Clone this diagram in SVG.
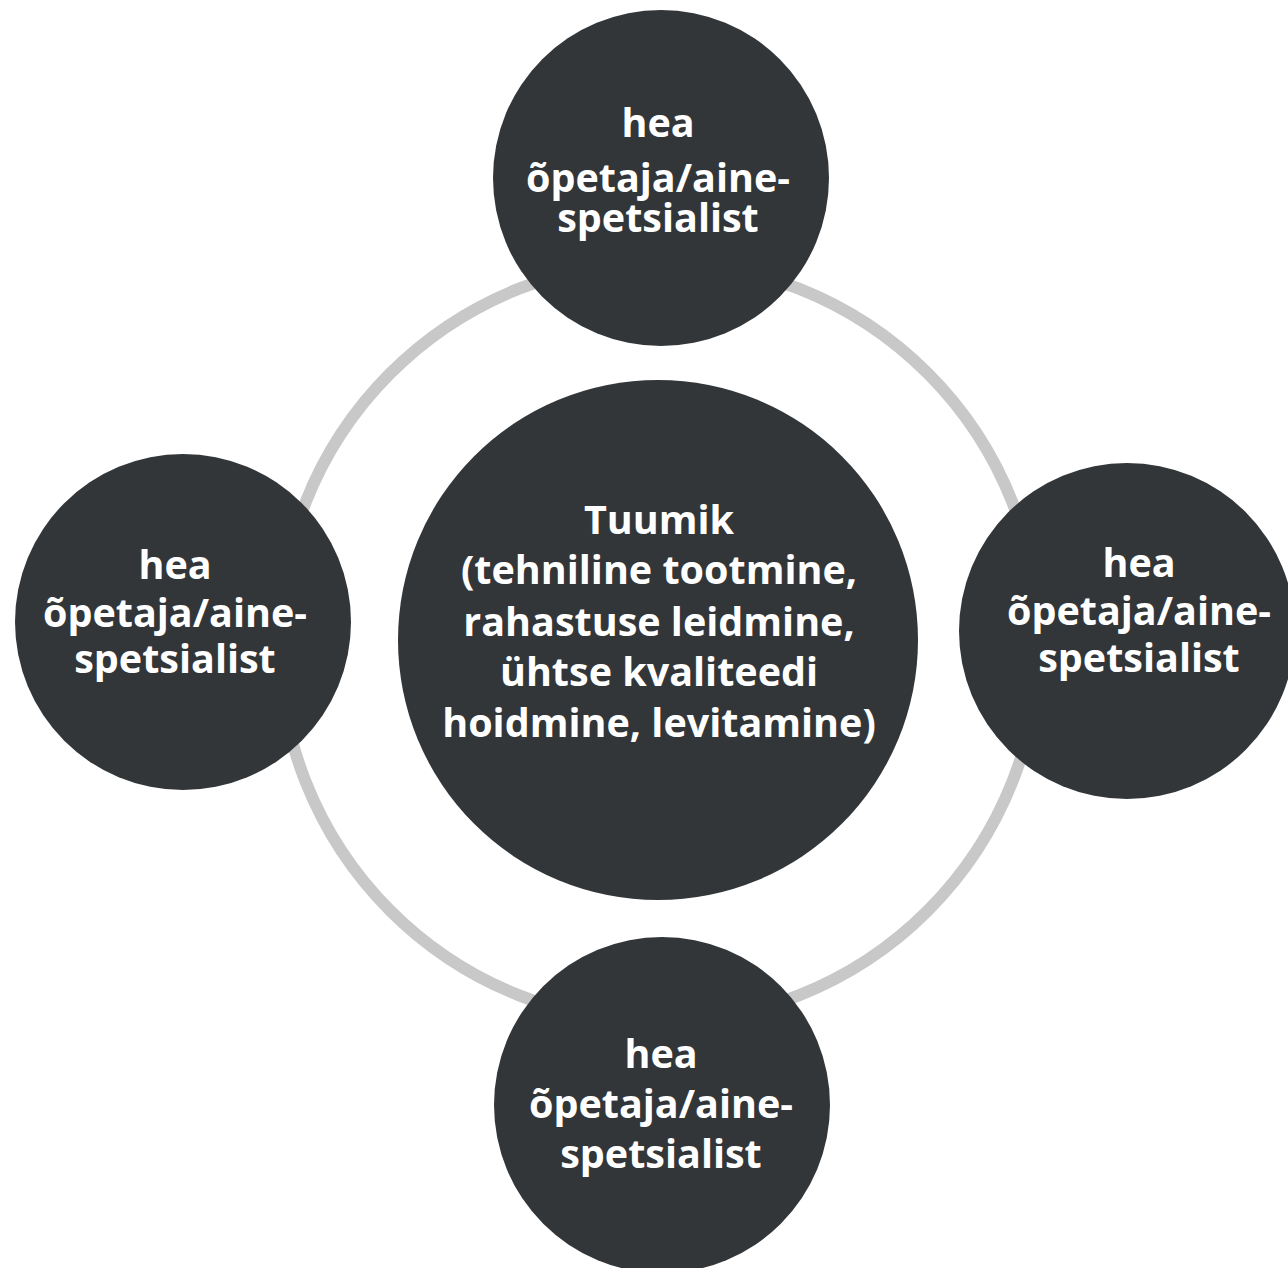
<svg xmlns="http://www.w3.org/2000/svg" width="1288" height="1268" viewBox="0 0 1288 1268">
<style>
.node{fill:#323639}
.lbl{font-family:"Open Sans","Noto Sans","Liberation Sans",sans-serif;font-weight:700;font-size:39.5px;fill:#ffffff;text-anchor:middle}
.ring{fill:none;stroke:#c8c8c8;stroke-width:12}
</style>
<rect width="1288" height="1268" fill="#ffffff"/>
<g id="connectors">
<circle class="ring" cx="659" cy="642" r="380"/>
</g>
<g id="center">
<circle class="node" cx="658" cy="640" r="260"/>
<text class="lbl"><tspan x="659" y="534">Tuumik</tspan><tspan x="659" y="584">(tehniline tootmine,</tspan><tspan x="659" y="636">rahastuse leidmine,</tspan><tspan x="659" y="686">ühtse kvaliteedi</tspan><tspan x="659" y="737">hoidmine, levitamine)</tspan></text>
</g>
<g id="top">
<circle class="node" cx="661" cy="178" r="168"/>
<text class="lbl"><tspan x="658" y="137">hea</tspan><tspan x="658" y="192">õpetaja/aine-</tspan><tspan x="658" y="232">spetsialist</tspan></text>
</g>
<g id="left">
<circle class="node" cx="183" cy="622" r="168"/>
<text class="lbl"><tspan x="175" y="579">hea</tspan><tspan x="175" y="627">õpetaja/aine-</tspan><tspan x="175" y="673">spetsialist</tspan></text>
</g>
<g id="right">
<circle class="node" cx="1127" cy="631" r="168"/>
<text class="lbl"><tspan x="1139" y="577">hea</tspan><tspan x="1139" y="625">õpetaja/aine-</tspan><tspan x="1139" y="672">spetsialist</tspan></text>
</g>
<g id="bottom">
<circle class="node" cx="662" cy="1105" r="168"/>
<text class="lbl"><tspan x="661" y="1068">hea</tspan><tspan x="661" y="1118">õpetaja/aine-</tspan><tspan x="661" y="1168">spetsialist</tspan></text>
</g>
</svg>
